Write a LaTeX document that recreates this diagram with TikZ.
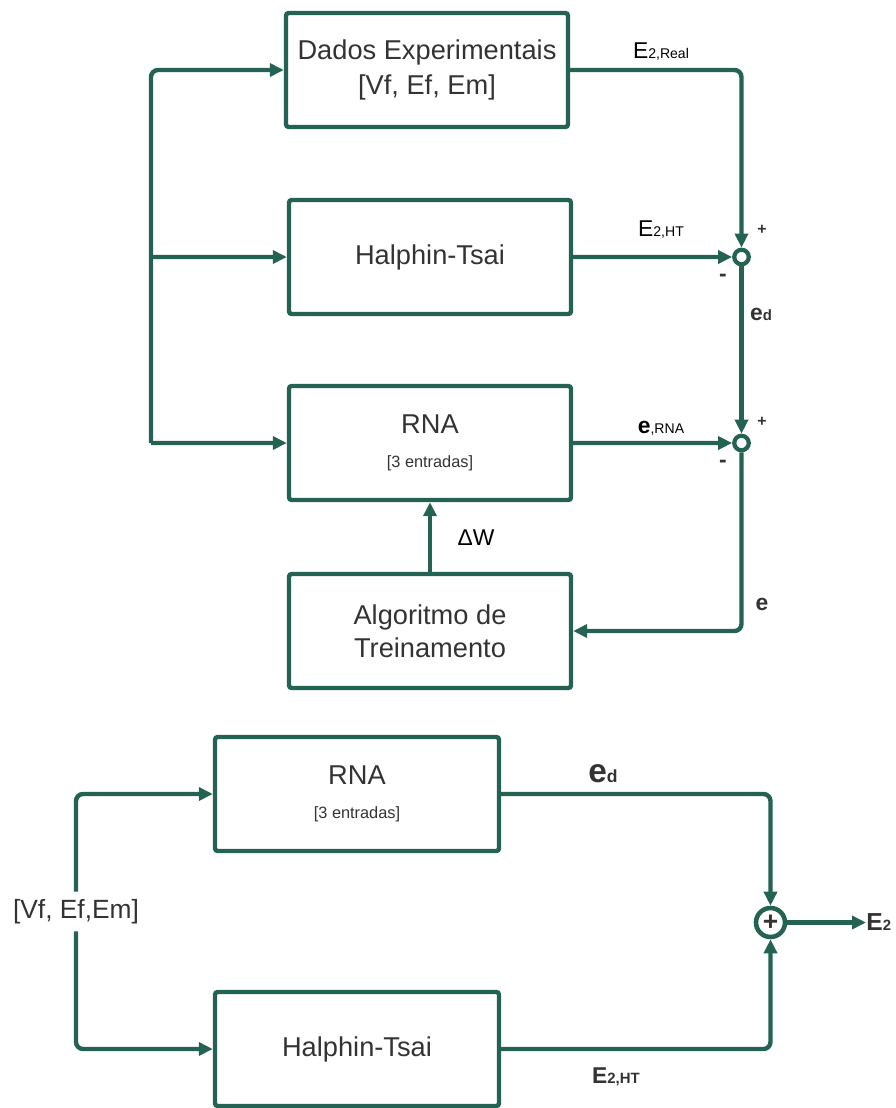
\documentclass[tikz,border=0pt]{standalone}
\usepackage{fontspec}
\setmainfont{Liberation Sans}
\usetikzlibrary{arrows.meta}
\definecolor{linegreen}{RGB}{36,99,84}
\definecolor{textgray}{RGB}{51,51,51}

\begin{document}
\begin{tikzpicture}[
  node distance=3.74cm,
  blocknode/.style={rectangle, draw=linegreen, line width=2.5pt, rounded corners=1.5pt, minimum width=5.64cm, minimum height=2.28cm, align=center, text=textgray, font=\fontsize{15.5}{19.5}\selectfont},
  sumnode/.style={circle, draw=linegreen, line width=2.4pt, fill=white, minimum size=0.29cm, inner sep=0pt},
  bigsum/.style={circle, draw=linegreen, line width=2.6pt, fill=white, minimum size=0.58cm, inner sep=0pt, text=textgray, font=\fontsize{15}{15}\selectfont\bfseries},
  edgelbl/.style={inner sep=0pt, text=black, font=\fontsize{13}{13}\selectfont},
  signlbl/.style={inner sep=0pt, text=textgray, font=\fontsize{9}{9}\selectfont\bfseries},
  arrow/.style={-{Triangle[length=0.28cm, width=0.26cm]}, line width=2.5pt, draw=linegreen}
]
\useasboundingbox (0,0) rectangle (17.92,-22.16);

% Training loop
\node[blocknode] (dados) at (8.54,-1.40) {Dados Experimentais\\{[Vf, Ef, Em]}};
\node[blocknode, below of=dados, xshift=0.06cm] (halphin) {Halphin-Tsai};
\node[blocknode, below of=halphin, node distance=3.72cm] (rna) {RNA\\[0pt]{\fontsize{9.3}{11}\selectfont [3 entradas]}};
\node[blocknode, below of=rna, node distance=3.76cm, font=\fontsize{15.5}{18.7}\selectfont] (alg) {Algoritmo de\\Treinamento};

\node[sumnode] (s1) at (14.83,-5.14) {};
\node[sumnode] (s2) at (14.83,-8.86) {};

\coordinate (busTop) at (3.02,-1.40);
\coordinate (busMid) at (3.02,-5.14);
\coordinate (busBot) at (3.02,-8.86);

\draw[arrow, rounded corners=4pt] (busBot) |- (dados.west);
\draw[arrow] (busMid) -- (halphin.west);
\draw[arrow] (busBot) -- (rna.west);

\draw[arrow, rounded corners=4pt] (dados.east) -| (s1);
\draw[arrow] (halphin.east) -- (s1);
\draw[arrow] (s1) -- (s2);
\draw[arrow] (rna.east) -- (s2);
\draw[arrow, rounded corners=4pt] (s2) |- (alg.east);
\draw[arrow] (alg) -- (rna);

\node[edgelbl] (lreal) at (13.22,-1.04) {E{\fontsize{8}{8}\selectfont 2,Real}};
\node[edgelbl] (lht) at (13.22,-4.60) {E{\fontsize{8}{8}\selectfont 2,HT}};
\node[edgelbl] (lrna) at (13.22,-8.56) {\textbf{e}{\fontsize{8}{8}\selectfont ,RNA}};
\node[signlbl] (p1) at (15.24,-4.60) {+};
\node[signlbl, font=\fontsize{13}{13}\selectfont\bfseries] (m1) at (14.46,-5.56) {-};
\node[signlbl] (p2) at (15.24,-8.44) {+};
\node[signlbl, font=\fontsize{13}{13}\selectfont\bfseries] (m2) at (14.46,-9.28) {-};
\node[edgelbl, text=textgray] (led) at (15.22,-6.28) {\textbf{e}{\fontsize{8.5}{8.5}\selectfont\bfseries d}};
\node[edgelbl, text=textgray] (le) at (15.24,-12.08) {\textbf{e}};
\node[edgelbl] (ldw) at (9.52,-10.76) {ΔW};

% Trained model
\node[blocknode, minimum width=5.68cm] (rna2) at (7.14,-15.88) {RNA\\[0pt]{\fontsize{9.3}{11}\selectfont [3 entradas]}};
\node[blocknode, minimum width=5.68cm, below of=rna2, node distance=5.10cm] (halphin2) {Halphin-Tsai};
\node[inner sep=0pt, minimum height=0.78cm, text=textgray, font=\fontsize{15}{15}\selectfont] (inp) at (1.52,-18.23) {[Vf, Ef,Em]};
\node[bigsum] (s3) at (15.41,-18.45) {+};
\node[inner sep=0pt, anchor=west, text=textgray, font=\fontsize{14}{14}\selectfont\bfseries] (out) at (17.32,-18.45) {E{\fontsize{8.5}{8.5}\selectfont 2}};

\draw[arrow, rounded corners=4pt] (inp.north) |- (rna2.west);
\draw[arrow, rounded corners=4pt] (inp.south) |- (halphin2.west);
\draw[arrow, rounded corners=4pt] (rna2.east) -| (s3);
\draw[arrow, rounded corners=4pt] (halphin2.east) -| (s3);
\draw[arrow] (s3) -- (out);

\node[edgelbl, text=textgray] (led2) at (12.06,-15.48) {\textbf{\fontsize{19}{19}\selectfont e}{\fontsize{10}{10}\selectfont\bfseries d}};
\node[edgelbl, text=textgray] (lht2) at (12.32,-21.54) {\textbf{E}{\fontsize{8.5}{8.5}\selectfont\bfseries 2,HT}};

\end{tikzpicture}
\end{document}
